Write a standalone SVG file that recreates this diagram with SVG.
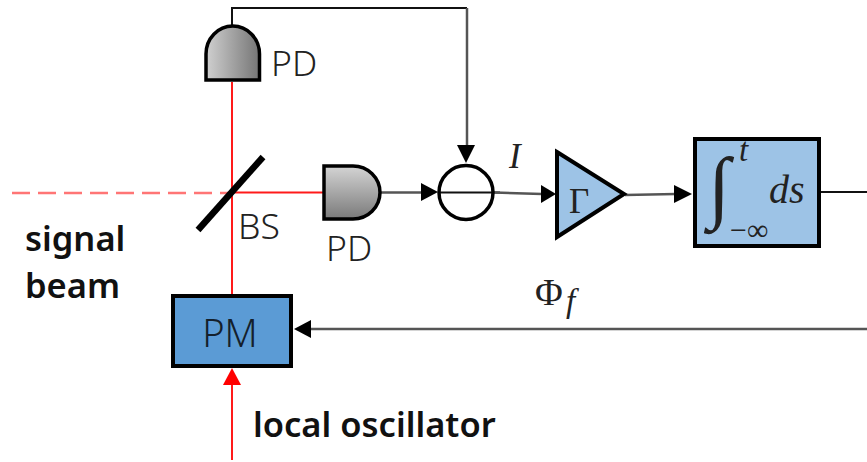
<svg xmlns="http://www.w3.org/2000/svg" width="867" height="462" viewBox="0 0 867 462">
<style>
.lbl{font-family:"Noto Sans","Open Sans",sans-serif;font-size:35.500px;font-weight:300;fill:#222}
.bold{font-family:"Noto Sans","Open Sans",sans-serif;font-size:34.500px;font-weight:600;fill:#111}
.ser{font-family:"Liberation Serif",serif;fill:#222}
.mi{font-family:"Liberation Serif",serif;font-style:italic;fill:#222}
.wire{fill:none;stroke:#111;stroke-width:2}
.grey{fill:none;stroke:#555;stroke-width:2.500}
.red{fill:none;stroke:#ff1a1a;stroke-width:2}
.blk{stroke:#000;stroke-width:4}
</style>
<defs>
<linearGradient id="gh" x1="0" y1="0" x2="1" y2="0"><stop offset="0" stop-color="#d0d0d0"/><stop offset="1" stop-color="#757575"/></linearGradient>
<linearGradient id="gv" x1="0" y1="0" x2="0" y2="1"><stop offset="0" stop-color="#d4d4d4"/><stop offset="1" stop-color="#7a7a7a"/></linearGradient>
</defs>
<g id="connectors">
<path class="wire" d="M232 26V8H467"/>
<path class="grey" d="M467 8V146"/>
<polygon points="457,145 475,145 466,163" fill="#000"/>
<path class="red" d="M232 82V296"/>
<path d="M12 193H232" fill="none" stroke="#ff7575" stroke-width="2.500" stroke-dasharray="18 8"/>
<path class="red" d="M232 192.500H324"/>
<path class="grey" d="M381 192.500H425"/>
<polygon points="421,183 421,201 438,192" fill="#000"/>
<path class="wire" d="M439 192.500H500"/>
<path class="grey" d="M494 192.500L542 194"/>
<polygon points="541,185 541,203 556,194" fill="#000"/>
<path class="grey" d="M625 195L676 194"/>
<polygon points="674,185 674,203 692,194" fill="#000"/>
<path class="wire" d="M820 192H867"/>
<path class="grey" d="M867 329H308"/>
<polygon points="311,320 311,338 294,329" fill="#000"/>
<path class="red" d="M232 385V460"/>
<polygon points="223,385 241,385 232,368" fill="#ff0000"/>
</g>
<g id="pd-top">
<path d="M206 80V54A26.750 28 0 0 1 259.500 54V80Z" fill="url(#gh)" stroke="#000" stroke-width="3.500"/>
<text class="lbl" x="271" y="76">PD</text>
</g>
<g id="bs">
<line x1="198" y1="230" x2="263" y2="157" stroke="#000" stroke-width="6.500"/>
<text class="lbl" x="238" y="239">BS</text>
</g>
<g id="pd-right">
<path d="M324 166H353A27 26.500 0 0 1 353 219H324Z" fill="url(#gv)" stroke="#000" stroke-width="3.500"/>
<text class="lbl" x="326" y="261">PD</text>
</g>
<g id="sum">
<circle cx="466" cy="192.500" r="27" fill="none" stroke="#000" stroke-width="3.500"/>
</g>
<text class="mi" x="509" y="168" font-size="35">I</text>
<g id="gain">
<polygon points="557,152 624,194 557,237" fill="#9dc3e6" class="blk"/>
<text class="ser" x="569" y="213" font-size="35">Γ</text>
</g>
<g id="integrator">
<rect x="695" y="139" width="124" height="107" fill="#9dc3e6" class="blk"/>
<text class="ser" x="708" y="213" font-size="80">∫</text>
<text class="mi" x="739" y="161" font-size="33">t</text>
<text class="ser" x="730" y="240" font-size="30">−∞</text>
<text class="mi" x="769" y="203" font-size="40">ds</text>
</g>
<text class="ser" x="535" y="305" font-size="38">Φ</text>
<text class="mi" x="566" y="312" font-size="33">f</text>
<g id="pm">
<rect x="173" y="296" width="118" height="70" fill="#5b9bd5" stroke="#000" stroke-width="4"/>
<text class="lbl" x="230" y="347" text-anchor="middle" style="fill:#14202c;font-size:38px">PM</text>
</g>
<text class="bold" x="25" y="251">signal</text>
<text class="bold" x="25" y="298">beam</text>
<text class="bold" x="253" y="437">local oscillator</text>
</svg>
